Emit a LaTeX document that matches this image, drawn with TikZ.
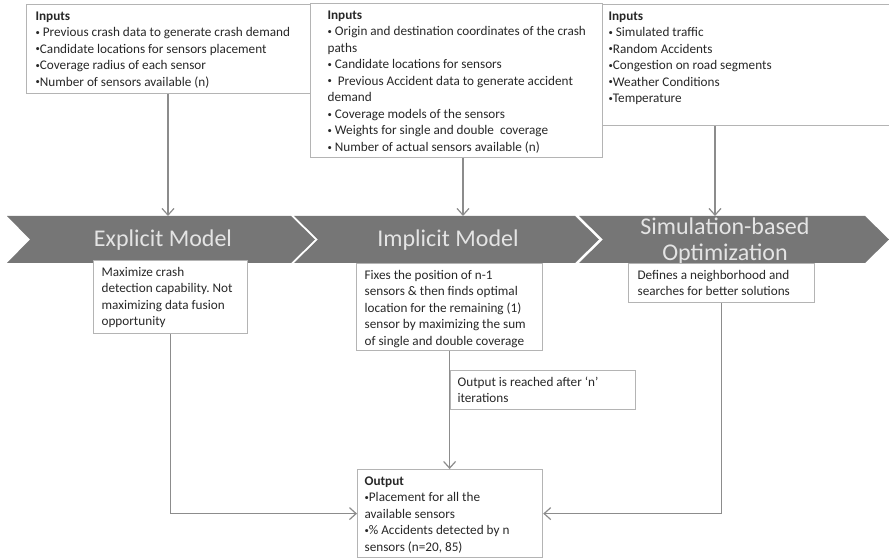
\documentclass[tikz,border=0pt]{standalone}
\usepackage{fontspec}
\setmainfont{Carlito}
\usepackage{xcolor}
\usetikzlibrary{arrows.meta}
\frenchspacing
\definecolor{bandgray}{RGB}{118,118,118}
\definecolor{bandtext}{RGB}{228,228,228}
\definecolor{boxline}{RGB}{180,180,180}
\definecolor{connline}{RGB}{140,140,140}
\definecolor{boxtext}{RGB}{40,40,40}
\newdimen\pxu \pxu=0.75pt
\newcommand{\boxtxt}[3]{\parbox[c][#2\pxu][t]{#1\pxu}{\begin{tabular}[t]{@{}l@{}}#3\end{tabular}}}
\newcommand{\bul}{{\fontsize{6.5}{6.5}\selectfont\raisebox{1pt}{•}}}
\tikzset{
  ibox/.style={rectangle, draw=boxline, line width=0.9pt, fill=white, anchor=north west, inner ysep=3pt, text=boxtext, font=\fontsize{9.9}{12.4}\selectfont},
  bandname/.style={text=bandtext, align=center, font=\fontsize{18}{20}\selectfont},
  band/.style={fill=bandgray},
  conn/.style={-{Straight Barb[length=5pt,width=9pt]}, draw=connline, line width=0.9pt}
}

\begin{document}
\begin{tikzpicture}[x=0.75pt, y=-0.75pt]
\useasboundingbox (0,0) rectangle (889,559);
\clip (0,0) rectangle (889,559);
% chevron band
\path[band] (7,216) -- (291,216) -- (315,239.5) -- (291,263) -- (7,263) -- (30,239.5) -- cycle;
\path[band] (294,216) -- (575,216) -- (599,239.5) -- (575,263) -- (294,263) -- (318,239.5) -- cycle;
\path[band] (579,216) -- (865,216) -- (889,239.5) -- (865,263) -- (579,263) -- (603,239.5) -- cycle;
\node[bandname] (exname) at (163,240) {Explicit Model};
\node[bandname] (imname) at (448,240) {Implicit Model};
\node[bandname] (soname) at (725,241) {Simulation-based\\Optimization};
\coordinate (t1) at (168,216);
\coordinate (t2) at (463,216);
\coordinate (t3) at (715,216);
% inputs
\node[ibox, inner xsep=6.75pt] (in1) at (26,4) {\boxtxt{272}{81}{\textbf{Inputs}\\\bul{} Previous crash data to generate crash demand\\\bul Candidate locations for sensors placement\\\bul Coverage radius of each sensor\\\bul Number of sensors available (n)}};
\node[ibox, inner xsep=12.75pt] (in2) at (310,3) {\boxtxt{258}{146}{\textbf{Inputs}\\\bul{} Origin and destination coordinates of the crash\\paths\\\bul{} Candidate locations for sensors\\\bul\ \ Previous Accident data to generate accident\\demand\\\bul{} Coverage models of the sensors\\\bul{} Weights for single and double\ \ coverage\\\bul{} Number of actual sensors available (n)}};
\node[ibox, inner xsep=4.5pt] (in3) at (602,4) {\boxtxt{300}{113}{\textbf{Inputs}\\\bul{} Simulated traffic\\\bul Random Accidents\\\bul Congestion on road segments\\\bul Weather Conditions\\\bul Temperature}};
% model descriptions
\node[ibox, inner xsep=6pt] (exd) at (93,260) {\boxtxt{138}{65}{Maximize crash\\detection capability. Not\\maximizing data fusion\\opportunity}};
\node[ibox, inner xsep=6pt] (imd) at (356,263) {\boxtxt{170}{79}{Fixes the position of n-1\\sensors \& then finds optimal\\location for the remaining (1)\\sensor by maximizing the sum\\of single and double coverage}};
\node[ibox, inner xsep=6.75pt] (sod) at (628,263) {\boxtxt{168}{31}{Defines a neighborhood and\\searches for better solutions}};
\node[ibox, inner xsep=5.25pt] (out) at (357,469) {\boxtxt{171}{80}{\textbf{Output}\\\bul Placement for all the\\available sensors\\\bul\% Accidents detected by n\\sensors (n=20, 85)}};
\draw[conn] (t1 |- in1.south) -- (t1);
\draw[conn] (t2 |- in2.south) -- (t2);
\draw[conn] (t3 |- in3.south) -- (t3);
\draw[conn] (exd.south) |- (out.west);
\draw[conn] (imd.south) -- (imd.south |- out.north);
\draw[conn] (sod.south) |- (out.east);
\node[ibox, inner xsep=5.25pt] (note) at (450,370) {\boxtxt{171}{31}{Output is reached after ‘n’\\iterations}};
\end{tikzpicture}
\end{document}
